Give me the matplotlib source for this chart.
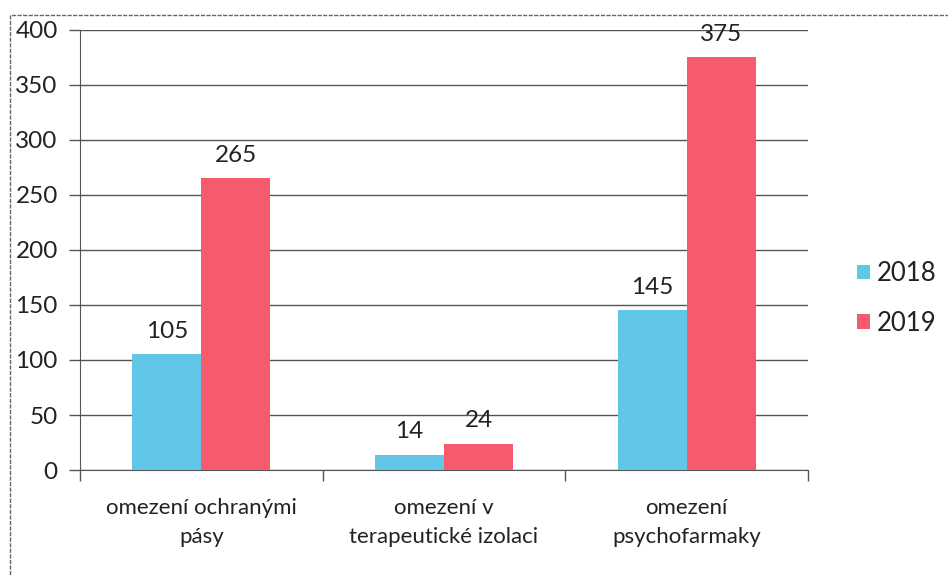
import matplotlib
matplotlib.use("Agg")
import matplotlib.pyplot as plt
import numpy as np
from matplotlib.patches import Rectangle

categories = ["omezení ochranými\npásy", "omezení v\nterapeutické izolaci", "omezení\npsychofarmaky"]
series_names = ["2018", "2019"]
values_2018 = [105, 14, 145]
values_2019 = [265, 24, 375]
yticks = [0, 50, 100, 150, 200, 250, 300, 350, 400]

colors = ["#62C6E6", "#F65A6D"]

plt.rcParams["font.family"] = ["Lato", "DejaVu Sans"]

fig = plt.figure(figsize=(9.48, 5.76), dpi=100)
ax = fig.add_axes([0.0844, 0.184, 0.768, 0.764])

x = np.arange(len(categories))
w = 0.284
for i, (vals, name) in enumerate(zip([values_2018, values_2019], series_names)):
    pos = x + (i - 0.5) * w
    ax.bar(pos, vals, width=w, color=colors[i], label=name, zorder=3)
    for p, v in zip(pos, vals):
        ax.annotate(str(v), (p, v), xytext=(0, 9), textcoords="offset points",
                    ha="center", va="bottom", fontsize=17.5, color="#222222")

ax.set_xlim(-0.5, len(categories) - 0.5)
ax.set_ylim(0, 400)
ax.set_yticks(yticks)
ax.yaxis.grid(True, color="#555555", linewidth=1.0, zorder=0)
ax.tick_params(axis="y", length=8, width=1, color="#555555", labelsize=17.5,
               pad=8, labelcolor="#222222")

ax.set_xticks(x)
ax.set_xticklabels(categories, fontsize=16, linespacing=1.55, color="#222222")
ax.tick_params(axis="x", which="major", length=0, pad=20)
ax.set_xticks(np.arange(-0.5, len(categories)), minor=True)
ax.tick_params(axis="x", which="minor", length=8, width=1, color="#555555")

for s in ["top", "right"]:
    ax.spines[s].set_visible(False)
for s in ["left", "bottom"]:
    ax.spines[s].set_color("#555555")
    ax.spines[s].set_linestyle((0, (4, 1)))

leg = ax.legend(loc="center left", bbox_to_anchor=(1.035, 0.39), frameon=False,
                fontsize=18.5, handlelength=0.5, handleheight=0.5,
                handletextpad=0.3, labelspacing=0.95)
for t in leg.get_texts():
    t.set_color("#222222")

# scanned chart frame
fig.patches.append(Rectangle((10 / 948, -0.1), 1.2, (1 - 15 / 576) + 0.1,
                             transform=fig.transFigure, fill=False,
                             edgecolor="#666666", linewidth=1.0,
                             linestyle=(0, (3, 1))))

fig.savefig("out.png", dpi=100)
